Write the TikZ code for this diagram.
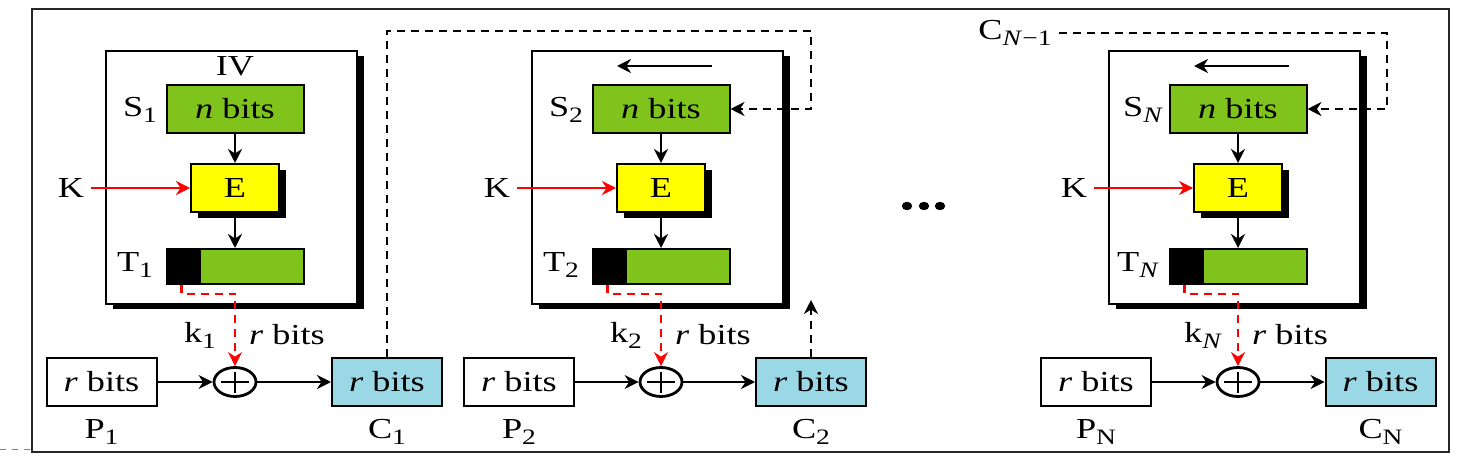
\documentclass[tikz,border=0pt]{standalone}
\usepackage{fontspec}
\setmainfont{Liberation Serif}[FakeStretch=1.25]
\usetikzlibrary{arrows.meta,shadows,shapes.geometric}
\definecolor{bitgreen}{RGB}{127,195,28}
\definecolor{encyellow}{RGB}{255,255,0}
\definecolor{cipherblue}{RGB}{155,216,230}
\newcommand{\lo}[1]{\raisebox{-3pt}{\fontsize{11}{12}\selectfont #1}}

\begin{document}
\begin{tikzpicture}[x=0.5pt,y=-0.5pt,font=\fontsize{14.5}{16}\selectfont,
>={Stealth[length=7pt,width=7pt]}]
\tikzstyle{stg}=[draw,line width=1pt,fill=white,inner sep=0pt,
minimum width=125.5pt,minimum height=126.5pt,
drop shadow={shadow xshift=3.5pt,shadow yshift=-2.5pt,fill=black,opacity=1}]
\tikzstyle{nb}=[draw,line width=1pt,fill=bitgreen,inner sep=0pt,
minimum width=68.5pt,minimum height=24pt]
\tikzstyle{eb}=[draw,line width=1pt,fill=encyellow,inner sep=0pt,
minimum width=44pt,minimum height=24pt,
drop shadow={shadow xshift=3.5pt,shadow yshift=-3pt,fill=black,opacity=1}]
\tikzstyle{tb}=[draw,line width=1pt,fill=bitgreen,inner sep=0pt,
minimum width=68.5pt,minimum height=17.5pt,
path picture={\fill[black] (path picture bounding box.south west)
rectangle ([xshift=17pt]path picture bounding box.north west);}]
\tikzstyle{rb}=[draw,line width=1pt,inner sep=0pt,
minimum width=55pt,minimum height=24pt]
\tikzstyle{xo}=[draw,ellipse,line width=1.4pt,inner sep=0pt,
minimum width=21pt,minimum height=14.5pt,
path picture={\draw[line width=1.4pt]
([xshift=3.5pt]path picture bounding box.west) --
([xshift=-3.5pt]path picture bounding box.east)
([yshift=-2pt]path picture bounding box.north) --
([yshift=2pt]path picture bounding box.south);}]
\tikzstyle{dsh}=[line width=1.4pt,dash pattern=on 4pt off 3pt]
\useasboundingbox (0,0) rectangle (1476,464);

% outer frame
\draw[line width=1pt,black!85] (32,9) rectangle (1449,452);
\draw[gray,dashed] (0,449) -- (32,449);

\foreach \cx/\i/\sb/\px/\cc/\pb in
{235/1/1/101.5/387/1,661/2/2/519/811/2,1238/N/{\textit{N}}/1096/1380.5/N}{
% cipher stage
\node[stg] (st\i) at (\cx-3.5,177.5) {};
\node[nb] (n\i) at (\cx,109) {\textit{n} bits};
\node[eb] (e\i) at (\cx,188) {E};
\node[tb] (t\i) at (\cx,266.5) {};
\node (sl\i) at (\cx-95,110) {S\lo{\sb}};
\node (tl\i) at (\cx-100,265) {T\lo{\sb}};
\node (k\i) at (\cx-164,188) {K};
\draw[line width=1.3pt,->] (n\i) -- (e\i);
\draw[line width=1.3pt,->] (e\i) -- (t\i);
\draw[line width=1.3pt,red,->] (k\i) -- (e\i);
% xor row
\node[xo] (x\i) at (\cx,382) {};
\node[rb] (p\i) at (\px,382) {\textit{r} bits};
\node[rb,fill=cipherblue] (c\i) at (\cc,382) {\textit{r} bits};
\node (pl\i) at (\px,432) {P\lo{\pb}};
\node (cl\i) at (\cc,432) {C\lo{\pb}};
\node (kl\i) at (\cx-35,335) {k\lo{\sb}};
\node (rl\i) at (\cx+52,335) {\textit{r} bits};
\draw[dsh,red,->] ([xshift=8pt]t\i.south west) |- ([yshift=-4.5pt]t\i.south)
-- (x\i);
\draw[line width=1.3pt,->] (p\i) -- (x\i);
\draw[line width=1.3pt,->] (x\i) -- (c\i);
}

\node (iv) at (235,66) {IV};
\foreach \i in {2,N}
\draw[line width=1.3pt,->] ([shift={(25.5pt,9pt)}]n\i.north)
-- ([shift={(-22pt,9pt)}]n\i.north);

% feedback
\coordinate (fb1) at (811,31);
\draw[dsh,->] (c1.north) |- (fb1) |- (n2.east);
\coordinate (up2) at (811,300);
\draw[dsh,->] (c2.north) -- (up2);
\node (cm) at (1015,33) {C\lo{\textit{N}−1}};
\coordinate (fbN) at (1387,109);
\draw[dsh,->] (cm.east) -| (fbN) -- (nN.east);

% dots
\foreach \dx in {907,924,940}
\fill (\dx,206) ellipse[x radius=2.6pt,y radius=2.1pt];
\end{tikzpicture}
\end{document}
